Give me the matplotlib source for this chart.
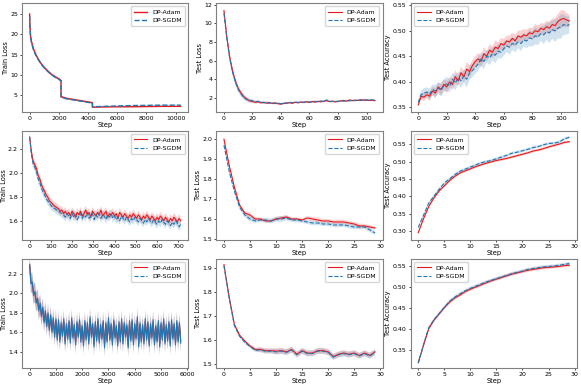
import numpy as np
from matplotlib import pyplot as plt
from matplotlib.lines import Line2D

# ---- row 1 : long run, lr drops ----
steps00 = [0, 20, 60, 120, 250, 400, 600, 800, 1000, 1250, 1500, 1750, 2000, 2150,
           2151, 2500, 3000, 3500, 4000, 4300, 4301, 5000, 6000, 7000, 8000, 9000, 10000, 10350]
adam00 = [25.0, 22.0, 19.8, 18.3, 16.5, 15.2, 13.8, 12.7, 11.8, 10.9, 10.1, 9.5, 9.0, 8.6,
          4.6, 4.2, 3.9, 3.6, 3.3, 3.1, 2.0, 2.05, 2.1, 2.1, 2.15, 2.2, 2.2, 2.2]
sgdm00 = [24.6, 21.8, 19.6, 18.1, 16.3, 15.0, 13.7, 12.6, 11.7, 10.8, 10.0, 9.4, 8.9, 8.5,
          4.5, 4.1, 3.8, 3.5, 3.2, 3.0, 2.1, 2.2, 2.3, 2.4, 2.45, 2.5, 2.5, 2.5]
std00 = [1.8, 0.9, 0.6, 0.45, 0.4, 0.35, 0.35, 0.3, 0.3, 0.3, 0.3, 0.3, 0.3, 0.3,
         0.25, 0.25, 0.2, 0.2, 0.2, 0.2, 0.1, 0.1, 0.1, 0.1, 0.1, 0.1, 0.1, 0.1]

steps01 = list(range(0, 108, 2))
adam01 = [11.4, 8.6, 6.4, 4.9, 3.8, 3.0, 2.5, 2.1, 1.85, 1.65, 1.6, 1.5, 1.55, 1.45, 1.5,
          1.4, 1.45, 1.38, 1.42, 1.35, 1.3, 1.38, 1.42, 1.45, 1.4, 1.5, 1.45, 1.52, 1.48,
          1.55, 1.5, 1.58, 1.52, 1.6, 1.55, 1.62, 1.68, 1.58, 1.62, 1.55, 1.6, 1.65, 1.7,
          1.62, 1.75, 1.68, 1.72, 1.7, 1.78, 1.72, 1.75, 1.7, 1.72, 1.68]
sgdm01 = [11.1, 8.4, 6.3, 4.8, 3.7, 2.9, 2.4, 2.0, 1.8, 1.7, 1.65, 1.55, 1.6, 1.5, 1.45,
          1.5, 1.42, 1.45, 1.38, 1.4, 1.35, 1.42, 1.4, 1.5, 1.45, 1.52, 1.48, 1.55, 1.5,
          1.58, 1.52, 1.55, 1.6, 1.55, 1.65, 1.58, 1.75, 1.6, 1.58, 1.62, 1.58, 1.68, 1.62,
          1.7, 1.65, 1.72, 1.68, 1.75, 1.7, 1.8, 1.72, 1.78, 1.75, 1.72]
adam01_std = [0.2, 0.35, 0.4, 0.35, 0.3, 0.3, 0.25, 0.25, 0.2, 0.2, 0.18, 0.15, 0.15, 0.12,
              0.12, 0.1, 0.12, 0.1, 0.1, 0.1, 0.08, 0.1, 0.08, 0.1, 0.08, 0.1, 0.08, 0.1,
              0.08, 0.1, 0.08, 0.1, 0.08, 0.1, 0.08, 0.1, 0.1, 0.08, 0.1, 0.08, 0.1, 0.08,
              0.1, 0.08, 0.1, 0.08, 0.1, 0.08, 0.1, 0.08, 0.1, 0.08, 0.1, 0.08]
sgdm01_std = [0.25, 0.4, 0.45, 0.4, 0.35, 0.3, 0.3, 0.25, 0.22, 0.2, 0.18, 0.15, 0.15, 0.14,
              0.12, 0.12, 0.1, 0.12, 0.1, 0.1, 0.1, 0.08, 0.1, 0.1, 0.08, 0.1, 0.1, 0.08,
              0.1, 0.1, 0.08, 0.12, 0.1, 0.08, 0.1, 0.1, 0.12, 0.1, 0.08, 0.1, 0.1, 0.08,
              0.1, 0.1, 0.08, 0.1, 0.1, 0.08, 0.1, 0.12, 0.1, 0.1, 0.08, 0.1]

adam02 = [0.355, 0.372, 0.370, 0.375, 0.372, 0.382, 0.378, 0.390, 0.385, 0.395,
          0.390, 0.400, 0.395, 0.410, 0.402, 0.418, 0.410, 0.425, 0.420, 0.432,
          0.440, 0.445, 0.440, 0.455, 0.450, 0.462, 0.458, 0.468, 0.465, 0.475,
          0.472, 0.480, 0.478, 0.485, 0.480, 0.490, 0.487, 0.492, 0.490, 0.496,
          0.494, 0.500, 0.498, 0.505, 0.502, 0.508, 0.505, 0.512, 0.510, 0.518,
          0.522, 0.524, 0.521, 0.519]
sgdm02 = [0.360, 0.375, 0.378, 0.380, 0.376, 0.385, 0.382, 0.388, 0.384, 0.393,
          0.396, 0.392, 0.405, 0.398, 0.408, 0.402, 0.412, 0.405, 0.418, 0.422,
          0.428, 0.435, 0.445, 0.440, 0.450, 0.447, 0.455, 0.452, 0.460, 0.458,
          0.465, 0.470, 0.468, 0.475, 0.472, 0.478, 0.475, 0.482, 0.480, 0.486,
          0.484, 0.490, 0.488, 0.494, 0.492, 0.498, 0.496, 0.502, 0.500, 0.505,
          0.508, 0.512, 0.510, 0.512]
adam02_std = [0.003, 0.006, 0.008, 0.007, 0.009, 0.008, 0.010, 0.009, 0.011, 0.010,
              0.012, 0.010, 0.011, 0.013, 0.010, 0.012, 0.011, 0.014, 0.012, 0.011,
              0.010, 0.012, 0.011, 0.013, 0.010, 0.012, 0.011, 0.013, 0.012, 0.011,
              0.012, 0.010, 0.013, 0.011, 0.012, 0.010, 0.013, 0.011, 0.012, 0.010,
              0.011, 0.013, 0.012, 0.010, 0.012, 0.011, 0.013, 0.012, 0.014, 0.015,
              0.018, 0.016, 0.014, 0.012]
sgdm02_std = [0.004, 0.008, 0.010, 0.009, 0.011, 0.010, 0.012, 0.011, 0.013, 0.012,
              0.014, 0.012, 0.013, 0.015, 0.012, 0.014, 0.013, 0.016, 0.014, 0.013,
              0.012, 0.014, 0.013, 0.015, 0.012, 0.014, 0.013, 0.015, 0.014, 0.013,
              0.014, 0.012, 0.015, 0.013, 0.014, 0.012, 0.015, 0.013, 0.014, 0.016,
              0.015, 0.017, 0.016, 0.014, 0.018, 0.016, 0.020, 0.018, 0.022, 0.020,
              0.024, 0.020, 0.018, 0.016]

# ---- row 2 ----
steps10 = list(range(0, 720, 8))
adam10 = [2.30, 2.18, 2.10, 2.07, 2.04, 1.98, 1.95, 1.90, 1.87, 1.84, 1.81, 1.79, 1.76, 1.75,
          1.73, 1.72, 1.71, 1.70, 1.68, 1.69,
          1.66, 1.68, 1.65, 1.67, 1.64, 1.68, 1.66, 1.63, 1.67, 1.65,
          1.68, 1.64, 1.66, 1.69, 1.65, 1.67, 1.63, 1.68, 1.66, 1.64,
          1.67, 1.65, 1.69, 1.64, 1.66, 1.68, 1.63, 1.66, 1.65, 1.67,
          1.64, 1.66, 1.62, 1.67, 1.65, 1.63, 1.66, 1.64, 1.62, 1.65,
          1.63, 1.66, 1.64, 1.62, 1.65, 1.63, 1.61, 1.64, 1.62, 1.65,
          1.63, 1.61, 1.64, 1.62, 1.60, 1.63, 1.61, 1.64, 1.62, 1.60,
          1.63, 1.61, 1.59, 1.62, 1.60, 1.63, 1.61, 1.59, 1.62, 1.60]
sgdm10 = [2.30, 2.16, 2.08, 2.05, 2.01, 1.95, 1.92, 1.87, 1.84, 1.81, 1.78, 1.76, 1.74, 1.72,
          1.71, 1.70, 1.69, 1.68, 1.67, 1.66,
          1.65, 1.63, 1.66, 1.64, 1.62, 1.66, 1.63, 1.65, 1.61, 1.64,
          1.66, 1.62, 1.65, 1.63, 1.67, 1.62, 1.64, 1.66, 1.61, 1.65,
          1.63, 1.66, 1.62, 1.65, 1.64, 1.61, 1.65, 1.63, 1.66, 1.62,
          1.64, 1.61, 1.63, 1.60, 1.64, 1.62, 1.60, 1.63, 1.61, 1.59,
          1.62, 1.60, 1.63, 1.61, 1.59, 1.62, 1.60, 1.58, 1.61, 1.59,
          1.62, 1.60, 1.58, 1.61, 1.59, 1.57, 1.60, 1.58, 1.61, 1.59,
          1.57, 1.60, 1.58, 1.56, 1.59, 1.57, 1.60, 1.58, 1.55, 1.57]
std10 = 0.035

steps_ep = list(range(30))
adam11 = [2.0, 1.87, 1.76, 1.67, 1.63, 1.62, 1.60, 1.60, 1.59, 1.59, 1.60, 1.605, 1.61, 1.60,
          1.60, 1.595, 1.605, 1.60, 1.595, 1.59, 1.59, 1.585, 1.585, 1.585, 1.58, 1.575,
          1.565, 1.565, 1.56, 1.555]
sgdm11 = [1.97, 1.84, 1.74, 1.66, 1.62, 1.60, 1.59, 1.595, 1.595, 1.59, 1.60, 1.60, 1.605,
          1.595, 1.595, 1.59, 1.585, 1.58, 1.58, 1.575, 1.575, 1.57, 1.57, 1.57, 1.565, 1.56,
          1.56, 1.56, 1.545, 1.53]
adam11_std = [0.005, 0.008, 0.008, 0.008, 0.01, 0.012, 0.01, 0.008, 0.008, 0.008,
              0.01, 0.01, 0.01, 0.008, 0.008, 0.008, 0.01, 0.01, 0.012, 0.01,
              0.01, 0.01, 0.012, 0.012, 0.01, 0.01, 0.012, 0.01, 0.01, 0.008]
sgdm11_std = [0.01, 0.012, 0.012, 0.012, 0.012, 0.012, 0.01, 0.01, 0.012, 0.012,
              0.012, 0.014, 0.012, 0.01, 0.012, 0.01, 0.01, 0.012, 0.01, 0.01,
              0.01, 0.01, 0.012, 0.01, 0.012, 0.012, 0.01, 0.01, 0.012, 0.01]

adam12 = [0.295, 0.335, 0.37, 0.395, 0.415, 0.43, 0.445, 0.457, 0.467, 0.473, 0.479, 0.485,
          0.49, 0.495, 0.499, 0.503, 0.506, 0.509, 0.513, 0.517, 0.521, 0.525, 0.53, 0.533,
          0.537, 0.542, 0.546, 0.55, 0.555, 0.557]
sgdm12 = [0.31, 0.345, 0.38, 0.40, 0.42, 0.438, 0.45, 0.462, 0.472, 0.478, 0.484, 0.49,
          0.496, 0.50, 0.503, 0.508, 0.513, 0.518, 0.524, 0.527, 0.531, 0.535, 0.54, 0.543,
          0.548, 0.552, 0.553, 0.556, 0.565, 0.57]
std12 = 0.004

# ---- row 3 ----
steps20 = list(range(0, 5800, 50))
sgdm20 = [2.30, 2.10, 2.12, 1.98, 2.02, 1.90, 1.95, 1.82, 1.90, 1.76, 1.86, 1.70, 1.82, 1.66,
          1.80, 1.62, 1.78, 1.60, 1.75, 1.55, 1.74,
          1.52, 1.73, 1.50, 1.70, 1.56, 1.74, 1.48, 1.69, 1.53, 1.72, 1.49, 1.75, 1.54, 1.68,
          1.47, 1.71, 1.55, 1.73, 1.50, 1.67,
          1.46, 1.72, 1.52, 1.70, 1.48, 1.76, 1.55, 1.69, 1.45, 1.71, 1.51, 1.74, 1.49, 1.68,
          1.53, 1.72, 1.44, 1.70, 1.50, 1.75,
          1.52, 1.69, 1.47, 1.73, 1.54, 1.67, 1.46, 1.71, 1.50, 1.74, 1.48, 1.70, 1.55, 1.68,
          1.44, 1.72, 1.51, 1.73, 1.47, 1.69,
          1.53, 1.76, 1.45, 1.70, 1.50, 1.68, 1.48, 1.74, 1.52, 1.71, 1.46, 1.69, 1.54, 1.73,
          1.47, 1.67, 1.50, 1.72, 1.45, 1.70,
          1.52, 1.74, 1.48, 1.68, 1.51, 1.71, 1.46, 1.73, 1.53, 1.69, 1.47, 1.72, 1.50, 1.70,
          1.49]
adam20 = [2.29, 2.12, 2.10, 2.00, 2.01, 1.92, 1.94, 1.84, 1.88, 1.78, 1.84, 1.72, 1.80, 1.68,
          1.78, 1.64, 1.76, 1.62, 1.73, 1.58, 1.72,
          1.55, 1.70, 1.53, 1.68, 1.58, 1.71, 1.51, 1.67, 1.56, 1.70, 1.52, 1.72, 1.56, 1.66,
          1.50, 1.69, 1.57, 1.70, 1.53, 1.65,
          1.49, 1.70, 1.54, 1.68, 1.51, 1.73, 1.57, 1.67, 1.48, 1.69, 1.53, 1.71, 1.52, 1.66,
          1.55, 1.70, 1.47, 1.68, 1.52, 1.72,
          1.54, 1.67, 1.50, 1.71, 1.56, 1.65, 1.49, 1.69, 1.52, 1.71, 1.51, 1.68, 1.57, 1.66,
          1.47, 1.70, 1.53, 1.71, 1.50, 1.67,
          1.55, 1.73, 1.48, 1.68, 1.52, 1.66, 1.51, 1.71, 1.54, 1.69, 1.49, 1.67, 1.56, 1.70,
          1.50, 1.65, 1.52, 1.70, 1.48, 1.68,
          1.54, 1.71, 1.51, 1.66, 1.53, 1.69, 1.49, 1.70, 1.55, 1.67, 1.50, 1.70, 1.52, 1.68,
          1.51]
std20 = 0.1

adam21 = [1.915, 1.78, 1.665, 1.62, 1.595, 1.575, 1.56, 1.56, 1.555, 1.555, 1.553, 1.555,
          1.55, 1.56, 1.54, 1.555, 1.545, 1.545, 1.555, 1.555, 1.55, 1.53, 1.54, 1.545, 1.54,
          1.545, 1.535, 1.545, 1.535, 1.55]
sgdm21 = [1.91, 1.775, 1.66, 1.615, 1.59, 1.572, 1.557, 1.558, 1.552, 1.553, 1.55, 1.553,
          1.548, 1.558, 1.538, 1.553, 1.543, 1.543, 1.553, 1.553, 1.548, 1.528, 1.538, 1.543,
          1.538, 1.543, 1.533, 1.543, 1.533, 1.548]
std21 = [0.003, 0.004, 0.005, 0.005, 0.006, 0.006, 0.008, 0.01, 0.01, 0.01,
         0.012, 0.012, 0.012, 0.012, 0.012, 0.012, 0.012, 0.012, 0.012, 0.012,
         0.012, 0.012, 0.012, 0.012, 0.012, 0.012, 0.012, 0.012, 0.012, 0.012]

adam22 = [0.32, 0.36, 0.40, 0.42, 0.435, 0.45, 0.463, 0.473, 0.48, 0.488, 0.494, 0.499,
          0.504, 0.509, 0.514, 0.518, 0.522, 0.526, 0.53, 0.533, 0.536, 0.539, 0.541, 0.543,
          0.545, 0.546, 0.547, 0.548, 0.55, 0.551]
sgdm22 = [0.318, 0.362, 0.402, 0.421, 0.436, 0.451, 0.465, 0.475, 0.483, 0.49, 0.496, 0.501,
          0.506, 0.511, 0.515, 0.519, 0.523, 0.527, 0.531, 0.534, 0.537, 0.541, 0.543, 0.545,
          0.547, 0.548, 0.549, 0.551, 0.553, 0.555]
std22 = 0.004

RED = '#e8191c'
BLUE = '#1f77b4'

panels = [
    [(steps00, adam00, sgdm00, std00, std00, 'Train Loss', 'upper right', (0.8, 27.7), [5, 10, 15, 20, 25], None),
     (steps01, adam01, sgdm01, adam01_std, sgdm01_std, 'Test Loss', 'upper right', (0.45, 12.2), [2, 4, 6, 8, 10, 12], None),
     (steps01, adam02, sgdm02, adam02_std, sgdm02_std, 'Test Accuracy', 'upper left', (0.341, 0.554), [0.35, 0.40, 0.45, 0.50, 0.55], '%.2f')],
    [(steps10, adam10, sgdm10, std10, std10, 'Train Loss', 'upper right', (1.44, 2.35), [1.6, 1.8, 2.0, 2.2], '%.1f'),
     (steps_ep, adam11, sgdm11, adam11_std, sgdm11_std, 'Test Loss', 'upper right', (1.495, 2.041), [1.5, 1.6, 1.7, 1.8, 1.9, 2.0], '%.1f'),
     (steps_ep, adam12, sgdm12, std12, std12, 'Test Accuracy', 'upper left', (0.274, 0.588), [0.30, 0.35, 0.40, 0.45, 0.50, 0.55], '%.2f')],
    [(steps20, adam20, sgdm20, std20, std20, 'Train Loss', 'upper right', (1.235, 2.355), [1.4, 1.6, 1.8, 2.0, 2.2], '%.1f'),
     (steps_ep, adam21, sgdm21, std21, std21, 'Test Loss', 'upper right', (1.483, 1.939), [1.5, 1.6, 1.7, 1.8, 1.9], '%.1f'),
     (steps_ep, adam22, sgdm22, std22, std22, 'Test Accuracy', 'upper left', (0.307, 0.566), [0.35, 0.40, 0.45, 0.50, 0.55], '%.2f')],
]

fig, axes = plt.subplots(3, 3, figsize=(5.81, 3.86), dpi=100)
fig.subplots_adjust(left=0.038, right=0.993, top=0.992, bottom=0.047, wspace=0.169, hspace=0.174)

for r in range(3):
    for c in range(3):
        ax = axes[r, c]
        x, a, s, a_std, s_std, ylab, loc, ylim, yt, fmt = panels[r][c]
        x = np.array(x)
        a = np.array(a)[:len(x)]
        s = np.array(s)[:len(x)]
        a_std = np.broadcast_to(np.array(a_std, dtype=float), a.shape)
        s_std = np.broadcast_to(np.array(s_std, dtype=float), s.shape)
        lw = 1.0 if (r, c) == (0, 0) else 0.8
        dense = (r, c) == (2, 0)
        band_alpha = 0.25 if dense else 0.2
        ax.plot(x, a, c=RED, lw=lw, label='_a')
        ax.fill_between(x, a - a_std, a + a_std, facecolor=RED, alpha=band_alpha, lw=0)
        ax.plot(x, s, c=BLUE, lw=lw, ls='-' if dense else '--', label='_s')
        ax.fill_between(x, s - s_std, s + s_std, facecolor=BLUE, alpha=band_alpha, lw=0)
        handles = [Line2D([], [], c=RED, lw=lw), Line2D([], [], c=BLUE, lw=lw, ls='--')]
        ax.legend(handles, ['DP-Adam', 'DP-SGDM'], loc=loc, fontsize=4.5, framealpha=0.8,
                  borderpad=0.5, handlelength=2.2)
        ax.set_ylim(ylim)
        ax.set_yticks(yt)
        if fmt:
            ax.yaxis.set_major_formatter(plt.FormatStrFormatter(fmt))
        ax.set_xlabel('Step', fontsize=4.8, labelpad=0.5)
        ax.set_ylabel(ylab, fontsize=4.8, labelpad=1)
        ax.tick_params(axis='both', labelsize=4.5, length=1.5, width=0.5, pad=1.5)
        for sp in ax.spines.values():
            sp.set_color('gray')
            sp.set_linewidth(0.8)

axes[0, 0].set_xticks([0, 2000, 4000, 6000, 8000, 10000])
axes[1, 0].set_xticks([0, 100, 200, 300, 400, 500, 600, 700])
axes[2, 0].set_xticks([0, 1000, 2000, 3000, 4000, 5000, 6000])
for c in (1, 2):
    axes[0, c].set_xticks([0, 20, 40, 60, 80, 100])
    axes[1, c].set_xticks([0, 5, 10, 15, 20, 25, 30])
    axes[2, c].set_xticks([0, 5, 10, 15, 20, 25, 30])

plt.savefig('out.png', dpi=100)
